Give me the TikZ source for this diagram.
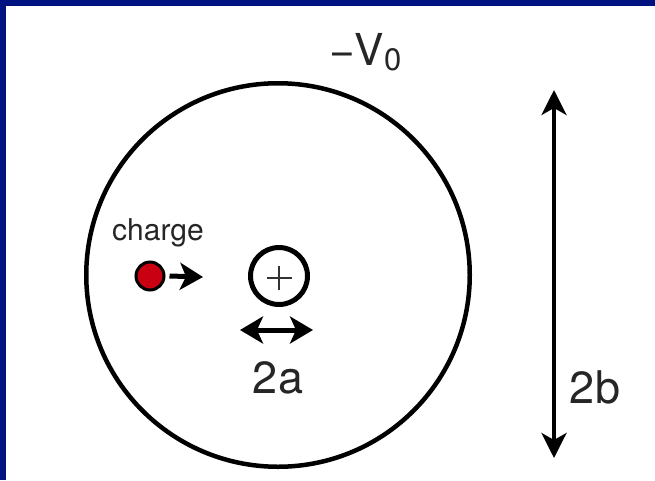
\documentclass[tikz,border=0pt]{standalone}
\usepackage{fontspec}
\setmainfont{TeX Gyre Heros}
\usetikzlibrary{arrows.meta}
\definecolor{navy}{RGB}{0,18,128}
\definecolor{chargered}{RGB}{200,0,18}
\tikzset{
  ring/.style={draw=black, circle, inner sep=0pt},
  plusring/.style={ring, path picture={
      \draw[line width=2pt, black!80] ([xshift=-12.5pt,yshift=-2pt]path picture bounding box.center) -- ++(25pt,0pt);
      \draw[line width=2pt, black!80] ([yshift=-14pt]path picture bounding box.center) -- ++(0pt,24pt);}},
  lbl/.style={inner sep=0pt, text=black!85},
  bigarrow/.style={line width=4pt, {Stealth[length=25pt,width=25pt,inset=7pt]}-{Stealth[length=25pt,width=25pt,inset=7pt]}},
  midarrow/.style={line width=5pt, {Stealth[length=23pt,width=27pt,inset=6pt]}-{Stealth[length=23pt,width=27pt,inset=6pt]}},
  onearrow/.style={line width=5pt, -{Stealth[length=23pt,width=27pt,inset=6pt]}}
}
\begin{document}
\begin{tikzpicture}[x=1pt,y=-1pt]
\useasboundingbox (0,0) rectangle (655,480);
\fill[navy] (0,0) rectangle (655,480);
\fill[white] (6,6) rectangle (655,480);

% outer conductor
\node[ring, line width=4.5pt, minimum size=383.5pt] (outer) at (278,275) {};
% inner conductor
\node[plusring, line width=5pt, minimum size=57pt] (inner) at (279,276) {};
% charge
\node[ring, line width=3pt, fill=chargered, minimum size=28pt] (q) at (150,276) {};
\node[lbl, anchor=base, font=\fontsize{30}{30}\selectfont] (chargelbl) at (158,240) {charge};
\coordinate (qtip) at (203,277);
\draw[onearrow] ([xshift=4pt]q.east) -- (qtip);

% 2a arrow
\coordinate (al) at (240,330);
\coordinate (ar) at (313,330);
\draw[midarrow] (al) -- (ar);
\node[lbl, anchor=base, font=\fontsize{45}{45}\selectfont] (twoa) at (278,393) {2a};

% 2b arrow
\coordinate (btop) at (554,90);
\coordinate (bbot) at (554,458);
\draw[bigarrow] (btop) -- (bbot);
\node[lbl, anchor=base, font=\fontsize{45}{45}\selectfont] (twob) at (595,403) {2b};

% potential label
\node[lbl, anchor=base west, font=\fontsize{44}{44}\selectfont] (vlbl) at (329,65) {−V\raisebox{-5pt}{\fontsize{31}{31}\selectfont 0}};
\end{tikzpicture}
\end{document}
